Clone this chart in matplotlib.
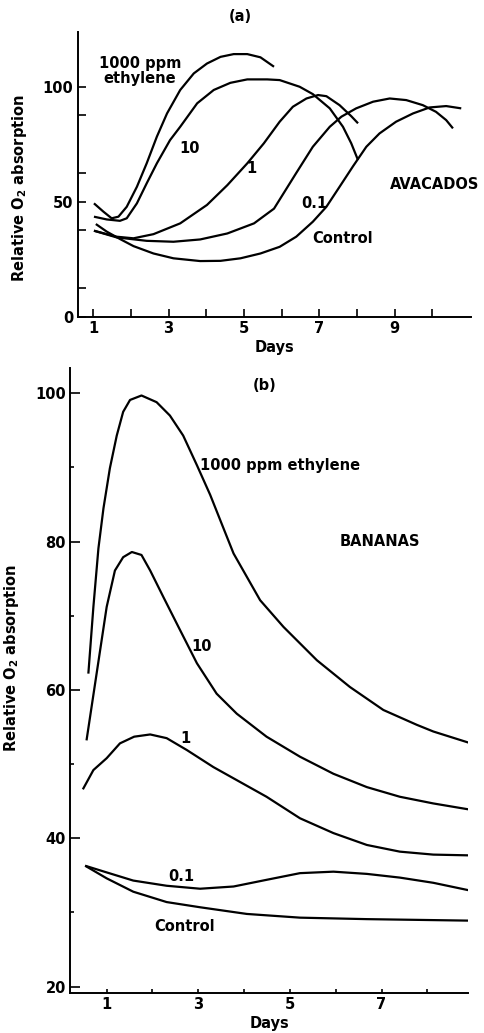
import matplotlib
matplotlib.use("Agg")
import matplotlib.pyplot as plt
from matplotlib.ticker import FixedLocator

plt.rcParams["font.family"] = ["DejaVu Sans"]
plt.rcParams["font.weight"] = "bold"
plt.rcParams["axes.labelweight"] = "bold"
plt.rcParams["mathtext.default"] = "bf"

# ---- (a) avocados ----
A_1000_DAYS = [1.02, 1.27, 1.49, 1.67, 1.89, 2.16, 2.42, 2.69, 2.96, 3.31, 3.67, 4.02, 4.38, 4.73, 5.09, 5.44, 5.8]
A_1000 = [49.3, 45.7, 42.8, 43.5, 47.8, 56.5, 66.7, 78.3, 88.4, 98.6, 105.8, 110.1, 113.0, 114.2, 114.2, 112.8, 108.7]

A_10_DAYS = [1.02, 1.36, 1.71, 1.89, 2.16, 2.42, 2.69, 3.04, 3.31, 3.76, 4.2, 4.64, 5.09, 5.62, 5.95, 6.48,
             6.83, 7.28, 7.63, 7.85, 8.03]
A_10 = [43.5, 42.3, 41.7, 42.8, 49.3, 58.0, 66.7, 76.8, 82.6, 92.8, 98.6, 101.7, 103.2, 103.2, 102.9, 100.0,
        96.8, 90.6, 82.6, 75.4, 68.1]

A_1_DAYS = [1.02, 1.62, 2.07, 2.6, 3.31, 4.02, 4.56, 5.09, 5.53, 5.95, 6.3, 6.66, 6.97, 7.19, 7.54, 7.85, 8.03]
A_1 = [37.4, 34.8, 34.1, 35.9, 40.6, 48.6, 57.2, 66.7, 75.4, 84.8, 91.3, 94.9, 96.4, 95.9, 92.0, 87.2, 84.1]

A_01_DAYS = [1.02, 1.62, 2.42, 3.13, 3.84, 4.56, 5.27, 5.8, 6.39, 6.83, 7.28, 7.59, 7.98, 8.43, 8.87, 9.31,
             9.75, 10.1, 10.37, 10.55]
A_01 = [37.4, 34.5, 33.0, 32.6, 33.6, 36.2, 40.6, 47.0, 62.5, 73.9, 82.6, 87.0, 90.6, 93.5, 94.9, 94.2,
        92.0, 89.1, 85.5, 81.9]

A_CTRL_DAYS = [1.07, 1.36, 1.71, 2.07, 2.6, 3.13, 3.84, 4.38, 4.91, 5.44, 5.95, 6.39, 6.83, 7.19, 7.54, 7.9,
               8.25, 8.6, 9.04, 9.49, 9.93, 10.37, 10.77]
A_CTRL = [40.3, 37.0, 33.8, 30.7, 27.5, 25.4, 24.2, 24.3, 25.4, 27.5, 30.4, 34.8, 41.3, 47.8, 56.5, 65.5,
          73.9, 79.7, 84.8, 88.4, 91.0, 91.6, 90.6]

# ---- (b) bananas ----
B_1000_DAYS = [0.6, 0.71, 0.82, 0.93, 1.07, 1.22, 1.36, 1.51, 1.76, 2.09, 2.38, 2.67, 2.97, 3.26, 3.55, 3.77,
               4.35, 4.86, 5.59, 6.31, 7.04, 7.77, 8.13, 8.9]
B_1000 = [62.2, 71.2, 79.1, 84.5, 89.9, 94.3, 97.5, 99.1, 99.7, 98.8, 97.0, 94.3, 90.3, 86.3, 81.8, 78.4,
          72.1, 68.5, 64.0, 60.4, 57.3, 55.3, 54.4, 52.9]

B_10_DAYS = [0.56, 0.78, 1.0, 1.18, 1.36, 1.55, 1.76, 1.95, 2.24, 2.6, 2.97, 3.4, 3.84, 4.49, 5.22, 5.95,
             6.68, 7.4, 8.13, 8.9]
B_10 = [53.2, 62.2, 71.2, 76.1, 77.9, 78.6, 78.2, 76.1, 72.5, 68.1, 63.6, 59.5, 56.8, 53.7, 51.0, 48.7,
        46.9, 45.6, 44.7, 43.9]

B_1_DAYS = [0.48, 0.71, 1.0, 1.29, 1.6, 1.95, 2.31, 2.75, 3.33, 3.91, 4.49, 5.22, 5.95, 6.68, 7.4, 8.13, 8.9]
B_1 = [46.6, 49.2, 50.8, 52.8, 53.7, 54.0, 53.5, 51.9, 49.6, 47.6, 45.6, 42.7, 40.7, 39.1, 38.2, 37.8, 37.7]

B_01_DAYS = [0.53, 1.0, 1.58, 2.31, 3.04, 3.77, 4.49, 5.22, 5.95, 6.68, 7.4, 8.13, 8.9]
B_01 = [36.3, 35.4, 34.3, 33.6, 33.2, 33.5, 34.4, 35.3, 35.5, 35.2, 34.7, 34.0, 33.0]

B_CTRL_DAYS = [0.53, 1.0, 1.58, 2.31, 3.04, 4.06, 5.22, 6.68, 8.9]
B_CTRL = [36.3, 34.6, 32.8, 31.4, 30.7, 29.8, 29.3, 29.1, 28.9]

A_XTICKS = [1, 3, 5, 7, 9]
A_YTICKS = [0, 50, 100]
B_XTICKS = [1, 3, 5, 7]
B_YTICKS = [20, 40, 60, 80, 100]

YLABEL = "Relative O$_2$ absorption"
LW = 1.6
FS = 10.5


def style_axes(ax):
    for side in ("top", "right"):
        ax.spines[side].set_visible(False)
    for side in ("left", "bottom"):
        ax.spines[side].set_linewidth(1.4)
    ax.tick_params(which="both", direction="in", width=1.2, labelsize=FS, pad=3)


fig = plt.figure(figsize=(4.85, 10.33), dpi=100)

# top panel
ax1 = fig.add_axes([0.160, 0.6934, 0.812, 0.2756])
for d, v in [(A_1000_DAYS, A_1000), (A_10_DAYS, A_10), (A_1_DAYS, A_1), (A_01_DAYS, A_01), (A_CTRL_DAYS, A_CTRL)]:
    ax1.plot(d, v, color="black", lw=LW, solid_capstyle="butt")
ax1.set_xlim(0.586, 11.04)
ax1.set_ylim(0, 123.8)
style_axes(ax1)
ax1.xaxis.set_major_locator(FixedLocator(A_XTICKS))
ax1.xaxis.set_minor_locator(FixedLocator([2, 4, 6, 8, 10]))
ax1.yaxis.set_major_locator(FixedLocator(A_YTICKS))
ax1.yaxis.set_minor_locator(FixedLocator([12.5, 37.5, 62.5, 87.5]))
ax1.tick_params(which="both", length=6)
ax1.set_xlabel("Days", fontsize=FS, labelpad=3)
ax1.set_ylabel(YLABEL, fontsize=10.5)
ax1.yaxis.set_label_coords(-0.124, 0.452)

ax1.text(2.24, 107.0, "1000 ppm\nethylene", ha="center", va="center", fontsize=FS, linespacing=1.0)
ax1.text(3.57, 73.2, "10", ha="center", va="center", fontsize=FS)
ax1.text(5.2, 64.5, "1", ha="center", va="center", fontsize=FS)
ax1.text(6.88, 49.3, "0.1", ha="center", va="center", fontsize=FS)
ax1.text(7.62, 34.1, "Control", ha="center", va="center", fontsize=FS)
ax1.text(10.06, 57.7, "AVACADOS", ha="center", va="center", fontsize=FS)

# bottom panel
ax2 = fig.add_axes([0.1443, 0.039, 0.8213, 0.6047])
for d, v in [(B_1000_DAYS, B_1000), (B_10_DAYS, B_10), (B_1_DAYS, B_1), (B_01_DAYS, B_01), (B_CTRL_DAYS, B_CTRL)]:
    ax2.plot(d, v, color="black", lw=LW, solid_capstyle="butt")
ax2.set_xlim(0.199, 8.895)
ax2.set_ylim(19.18, 103.4)
style_axes(ax2)
ax2.xaxis.set_major_locator(FixedLocator(B_XTICKS))
ax2.xaxis.set_minor_locator(FixedLocator([2, 4, 6, 8]))
ax2.yaxis.set_major_locator(FixedLocator(B_YTICKS))
ax2.yaxis.set_minor_locator(FixedLocator([30, 50, 70, 90]))
ax2.tick_params(axis="y", which="major", length=7)
ax2.tick_params(axis="y", which="minor", length=3)
ax2.tick_params(axis="x", which="both", length=3)
ax2.set_xlabel("Days", fontsize=FS, labelpad=3)
ax2.set_ylabel(YLABEL, fontsize=10.5)
ax2.yaxis.set_label_coords(-0.123, 0.536)

ax2.text(3.04, 90.3, "1000 ppm ethylene", ha="left", va="center", fontsize=FS)
ax2.text(6.09, 80.0, "BANANAS", ha="left", va="center", fontsize=FS)
ax2.text(3.07, 65.8, "10", ha="center", va="center", fontsize=FS)
ax2.text(2.71, 53.5, "1", ha="center", va="center", fontsize=FS)
ax2.text(2.64, 34.8, "0.1", ha="center", va="center", fontsize=FS)
ax2.text(2.69, 28.1, "Control", ha="center", va="center", fontsize=FS)

fig.text(240 / 485, 1 - 16.7 / 1033, "(a)", ha="center", va="center", fontsize=FS)
fig.text(265 / 485, 1 - 385 / 1033, "(b)", ha="center", va="center", fontsize=FS)

fig.savefig("out.png", dpi=100, facecolor="white")
